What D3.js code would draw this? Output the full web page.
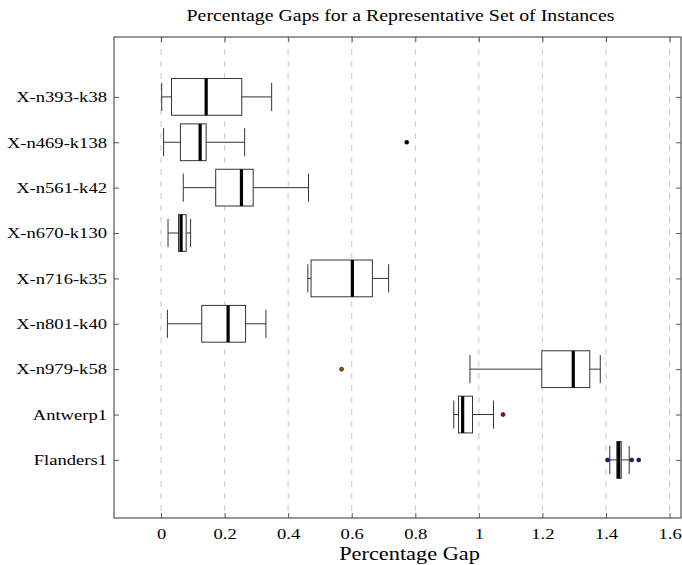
<!DOCTYPE html>
<html>
<head>
<meta charset="utf-8">
<script src="https://cdn.jsdelivr.net/npm/d3@7"></script>
<style>
  body { margin: 0; background: #fff; }
  text { font-family: "Liberation Serif", "DejaVu Serif", serif; fill: #000; }
</style>
</head>
<body>
<svg id="chart"></svg>
<script>
'use strict';

// instance names, top to bottom
var instances = ['X-n393-k38', 'X-n469-k138', 'X-n561-k42', 'X-n670-k130', 'X-n716-k35',
                 'X-n801-k40', 'X-n979-k58', 'Antwerp1', 'Flanders1'];
// box statistics
var lowWhisker  = [0.002, 0.008, 0.070, 0.022, 0.462, 0.020, 0.972, 0.921, 1.412];
var lowerQuart  = [0.033, 0.061, 0.172, 0.055, 0.472, 0.128, 1.198, 0.936, 1.434];
var medians     = [0.142, 0.123, 0.253, 0.063, 0.602, 0.211, 1.297, 0.949, 1.440];
var upperQuart  = [0.254, 0.142, 0.290, 0.079, 0.665, 0.266, 1.349, 0.980, 1.448];
var highWhisker = [0.348, 0.263, 0.464, 0.093, 0.716, 0.330, 1.382, 1.046, 1.473];
var outliers    = [[], [0.773], [], [], [], [], [0.568], [1.076], [1.405, 1.481, 1.503]];
var outlierColours = ['#000', '#000', '#000', '#000', '#000', '#000', '#9a5b14', '#c00000', '#1a1a9a'];
var xTicks = [0, 0.2, 0.4, 0.6, 0.8, 1, 1.2, 1.4, 1.6];

var SVG_SIZE = { width: 682, height: 565 };
var MARGIN = { left: 114, right: 1, top: 37, bottom: 47 };
var plotW = SVG_SIZE.width - MARGIN.left - MARGIN.right;
var plotH = SVG_SIZE.height - MARGIN.top - MARGIN.bottom;
// the reference font is wider than anything installed, so stretch text a bit
var STRETCH = 1.24;

var svg = d3.select('#chart').attr('width', SVG_SIZE.width).attr('height', SVG_SIZE.height);

var xScale = d3.scaleLinear().domain([-0.148, 1.636]).range([0, plotW]);
var yScale = d3.scaleLinear().domain([-0.32, 10.28]).range([0, plotH]);
var unit = yScale(2) - yScale(1);
var boxHalf = unit * 0.405;
var capHalf = unit * 0.31;

function stretch(sel) {
    sel.each(function () {
        var t = d3.select(this);
        var x = +t.attr('x') || 0, y = +t.attr('y') || 0;
        t.attr('x', 0).attr('y', 0)
            .attr('transform', 'translate(' + x + ',' + y + ') scale(' + STRETCH + ',1)');
    });
}

var plot = svg.append('g')
    .attr('transform', 'translate(' + MARGIN.left + ',' + MARGIN.top + ')');

// dashed grid
plot.selectAll('.grid').data(xTicks).enter().append('line')
    .attr('x1', function (d) { return xScale(d); })
    .attr('x2', function (d) { return xScale(d); })
    .attr('y1', 0).attr('y2', plotH)
    .attr('stroke', '#c8c8c8').attr('stroke-width', 1)
    .attr('stroke-dasharray', '6,6');

var rows = instances.map(function (name, i) {
    return { name: name, pos: i + 1, lo: lowWhisker[i], q1: lowerQuart[i], med: medians[i],
             q3: upperQuart[i], hi: highWhisker[i], out: outliers[i], col: outlierColours[i] };
});

var g = plot.selectAll('.box').data(rows).enter().append('g');

// whiskers
g.append('line')
    .attr('x1', function (d) { return xScale(d.lo); })
    .attr('x2', function (d) { return xScale(d.q1); })
    .attr('y1', function (d) { return yScale(d.pos); })
    .attr('y2', function (d) { return yScale(d.pos); })
    .attr('stroke', '#333').attr('stroke-width', 1);
g.append('line')
    .attr('x1', function (d) { return xScale(d.q3); })
    .attr('x2', function (d) { return xScale(d.hi); })
    .attr('y1', function (d) { return yScale(d.pos); })
    .attr('y2', function (d) { return yScale(d.pos); })
    .attr('stroke', '#333').attr('stroke-width', 1);
['lo', 'hi'].forEach(function (k) {
    g.append('line')
        .attr('x1', function (d) { return xScale(d[k]); })
        .attr('x2', function (d) { return xScale(d[k]); })
        .attr('y1', function (d) { return yScale(d.pos) - capHalf; })
        .attr('y2', function (d) { return yScale(d.pos) + capHalf; })
        .attr('stroke', '#333').attr('stroke-width', 1);
});

// boxes
g.append('rect')
    .attr('x', function (d) { return xScale(d.q1); })
    .attr('width', function (d) { return xScale(d.q3) - xScale(d.q1); })
    .attr('y', function (d) { return yScale(d.pos) - boxHalf; })
    .attr('height', boxHalf * 2)
    .attr('fill', '#fff').attr('stroke', '#333').attr('stroke-width', 1);

// medians
g.append('line')
    .attr('x1', function (d) { return xScale(d.med); })
    .attr('x2', function (d) { return xScale(d.med); })
    .attr('y1', function (d) { return yScale(d.pos) - boxHalf; })
    .attr('y2', function (d) { return yScale(d.pos) + boxHalf; })
    .attr('stroke', '#000').attr('stroke-width', 3.2);

// outliers
g.each(function (d) {
    d3.select(this).selectAll('circle').data(d.out).enter().append('circle')
        .attr('cx', function (v) { return xScale(v); })
        .attr('cy', yScale(d.pos))
        .attr('r', 2)
        .attr('fill', d.col).attr('stroke', '#000').attr('stroke-width', 0.6);
});

// frame
plot.append('rect')
    .attr('x', 0).attr('y', 0).attr('width', plotW).attr('height', plotH)
    .attr('fill', 'none').attr('stroke', '#333').attr('stroke-width', 1);

// axes with inner ticks
var xAxis = d3.axisBottom(xScale).tickValues(xTicks).tickSize(-5).tickPadding(10)
    .tickFormat(function (d) { return d3.format('')(d); });
var xg = plot.append('g').attr('transform', 'translate(0,' + plotH + ')').call(xAxis);
xg.select('.domain').remove();
xg.selectAll('line').attr('stroke', '#555');
xg.selectAll('text').attr('font-size', 15).attr('font-family', null).call(stretch);

var xTop = plot.append('g').call(d3.axisTop(xScale).tickValues(xTicks).tickSize(-5).tickFormat(''));
xTop.select('.domain').remove();
xTop.selectAll('line').attr('stroke', '#555');

var yPos = d3.range(1, instances.length + 1);
var yAxis = d3.axisLeft(yScale).tickValues(yPos).tickSize(-5).tickPadding(7)
    .tickFormat(function (d) { return instances[d - 1]; });
var yg = plot.append('g').call(yAxis);
yg.select('.domain').remove();
yg.selectAll('line').attr('stroke', '#555');
yg.selectAll('text').attr('font-size', 15).attr('font-family', null).call(stretch);

var yRight = plot.append('g').attr('transform', 'translate(' + plotW + ',0)')
    .call(d3.axisRight(yScale).tickValues(yPos).tickSize(-5).tickFormat(''));
yRight.select('.domain').remove();
yRight.selectAll('line').attr('stroke', '#555');

// titles
svg.append('text')
    .attr('x', MARGIN.left + plotW / 2 + 3).attr('y', 21)
    .attr('text-anchor', 'middle').attr('font-size', 16)
    .text('Percentage Gaps for a Representative Set of Instances')
    .call(stretch);
svg.append('text')
    .attr('x', MARGIN.left + plotW / 2 + 12).attr('y', 560)
    .attr('text-anchor', 'middle').attr('font-size', 18)
    .text('Percentage Gap')
    .call(stretch);
</script>
</body>
</html>
